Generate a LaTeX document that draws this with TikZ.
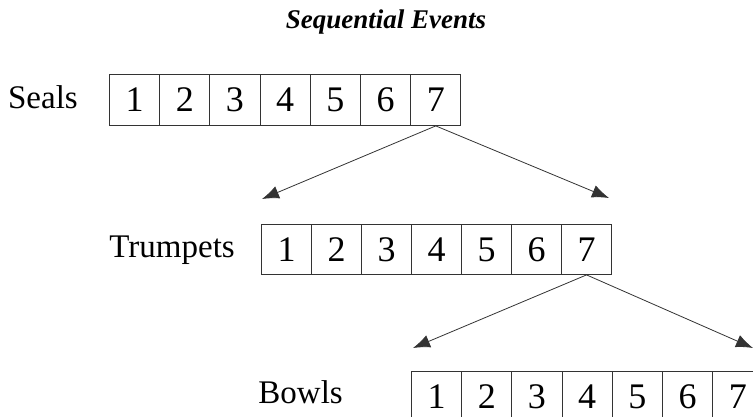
\documentclass[tikz,border=0pt]{standalone}
\usepackage{fontspec}
\setmainfont{Liberation Serif}
\usetikzlibrary{arrows.meta}
\begin{document}
\begin{tikzpicture}[x=1pt,y=-1pt,
  cell/.style={draw=black!80,line width=0.9pt,minimum width=50.2pt,minimum height=51pt,inner sep=0pt,anchor=north west,font=\fontsize{36}{40}\selectfont},
  rowlabel/.style={anchor=base east,inner sep=0pt,font=\fontsize{33}{36}\selectfont},
  arr/.style={draw=black!80,line width=0.8pt,-{Latex[length=17pt,width=13pt]}}]
\useasboundingbox (0,0) rectangle (753,417);
\clip (0,0) rectangle (753,417);
\node[anchor=base,inner sep=0pt,font=\fontsize{27}{30}\selectfont\bfseries\itshape] (title) at (386,29) {Sequential Events};
\node[rowlabel] (seals) at (78,109) {Seals};
\node[rowlabel] (trumpets) at (235,257) {Trumpets};
\node[rowlabel] (bowls) at (343,403) {Bowls};
\foreach \i in {1,...,7} {
  \node[cell] (s\i) at ({109+(\i-1)*50.2},74) {\i};
  \node[cell,minimum height=50pt] (t\i) at ({261+(\i-1)*50},224) {\i};
  \node[cell,minimum height=50pt] (b\i) at ({411+(\i-1)*50.2},371) {\i};
}
\coordinate (sL) at (262,199);
\coordinate (sR) at (609,198);
\coordinate (tL) at (413,348);
\coordinate (tR) at (753,348);
\draw[arr] (s7.south) -- (sL);
\draw[arr] (s7.south) -- (sR);
\draw[arr] (t7.south) -- (tL);
\draw[arr] (t7.south) -- (tR);
\end{tikzpicture}
\end{document}
